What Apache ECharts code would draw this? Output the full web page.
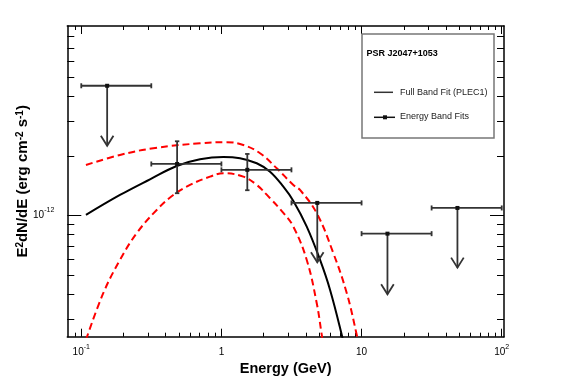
<!DOCTYPE html>
<html><head><meta charset="utf-8">
<script src="https://cdn.jsdelivr.net/npm/echarts@6/dist/echarts.min.js"></script>
<style>html,body{margin:0;padding:0;background:#fff}#c{width:567px;height:384px}</style>
</head><body><div id="c"></div>
<script>
// ---- data ----
const xMajorTicks = [0.1, 1, 10, 100];
const xMinorTicks = [0.09, 0.2, 0.3, 0.4, 0.5, 0.6, 0.7, 0.8, 0.9, 2, 3, 4, 5, 6, 7, 8, 9, 20, 30, 40, 50, 60, 70, 80, 90];
const yMajorTicks = [1e-12];
const yMinorTicks = [3e-13, 4e-13, 5e-13, 6e-13, 7e-13, 8e-13, 9e-13, 2e-12, 3e-12, 4e-12, 5e-12, 6e-12, 7e-12, 8e-12];

// Full band fit (PLEC1)
const fitE = [0.108, 0.1889, 0.3093, 0.4797, 0.7035, 1.032, 1.358, 1.786, 2.223, 2.766, 3.261, 4.063, 5.057, 5.961, 7.224, 7.6];
const fitF = [1.006e-12, 1.269e-12, 1.523e-12, 1.778e-12, 1.922e-12, 1.975e-12, 1.945e-12, 1.835e-12, 1.664e-12, 1.398e-12, 1.184e-12, 0.878e-12, 0.596e-12, 0.4205e-12, 0.2491e-12, 0.21e-12];
// Upper band (red dashed)
const upE = [0.108, 0.1889, 0.3265, 0.7035, 1.091, 1.433, 1.886, 2.481, 3.261, 3.639, 4.788, 6.292, 7.844, 9.24, 9.7];
const upF = [1.799e-12, 2.021e-12, 2.185e-12, 2.316e-12, 2.343e-12, 2.270e-12, 2.061e-12, 1.731e-12, 1.426e-12, 1.345e-12, 1.026e-12, 0.644e-12, 0.4046e-12, 0.2491e-12, 0.21e-12];
// Lower band (red dashed)
const loE = [0.108, 0.1435, 0.1889, 0.2485, 0.3453, 0.4536, 0.5969, 0.8291, 1.032, 1.433, 1.786, 2.223, 2.766, 3.261, 4.063, 4.788, 5.199, 5.4];
const loF = [0.235e-12, 0.4046e-12, 0.596e-12, 0.813e-12, 1.066e-12, 1.269e-12, 1.426e-12, 1.570e-12, 1.634e-12, 1.570e-12, 1.426e-12, 1.221e-12, 1.030e-12, 0.878e-12, 0.596e-12, 0.3602e-12, 0.2491e-12, 0.21e-12];

// Energy band fits
const binE   = [0.153, 0.483, 1.53, 4.83, 15.3, 48.3];
const binLo  = [0.1, 0.316, 1, 3.16, 10, 31.6];
const binHi  = [0.316, 1, 3.16, 10, 31.6, 100];
const binF   = [4.52e-12, 1.82e-12, 1.70e-12, 1.157e-12, 0.809e-12, 1.091e-12];
const binFLo = [null, 1.295e-12, 1.341e-12, null, null, null];
const binFHi = [null, 2.37e-12, 2.045e-12, null, null, null];
const ulTip  = [2.25e-12, null, null, 0.58e-12, 0.40e-12, 0.545e-12];

const FONT = 'Liberation Sans, Arial, Helvetica, sans-serif';
const X_MIN = 0.0795, X_MAX = 103.8, Y_MIN = 2.44e-13, Y_MAX = 9.06e-12;

function powLabel(v) {
  const e = Math.round(Math.log10(v));
  if (e === 0) return '{b|1}';
  if (e === 1) return '{b|10}';
  return '{b|10}{s|' + e + '}';
}
const labRich = {
  b: { fontSize: 10, lineHeight: 17, fontFamily: FONT, color: '#000' },
  s: { fontSize: 7, lineHeight: 8, verticalAlign: 'top', fontFamily: FONT, color: '#000' }
};

function mkX(pos, major) {
  return {
    type: 'log', logBase: 10, min: X_MIN, max: X_MAX, position: pos, gridIndex: 0,
    axisLine: { show: major, onZero: false, lineStyle: { color: '#000', width: 1.5 } },
    axisTick: { show: true, inside: true, length: major ? 8 : 4, customValues: major ? xMajorTicks : xMinorTicks,
      lineStyle: { color: '#000', width: 1 } },
    axisLabel: { show: major && pos === 'bottom', customValues: xMajorTicks, formatter: powLabel, rich: labRich, margin: 7 },
    splitLine: { show: false }, minorTick: { show: false },
    name: (major && pos === 'bottom') ? 'Energy (GeV)' : '',
    nameLocation: 'middle', nameGap: 25, nameMoveOverlap: false,
    nameTextStyle: { fontSize: 14.5, fontWeight: 'bold', fontFamily: FONT, color: '#000' }
  };
}
function mkY(pos, major) {
  return {
    type: 'log', logBase: 10, min: Y_MIN, max: Y_MAX, position: pos, gridIndex: 0,
    axisLine: { show: major, onZero: false, lineStyle: { color: '#000', width: 1.5 } },
    axisTick: { show: true, inside: true, length: major ? 14 : 7, customValues: major ? yMajorTicks : yMinorTicks,
      lineStyle: { color: '#000', width: 1 } },
    axisLabel: { show: major && pos === 'left', customValues: yMajorTicks, formatter: powLabel, rich: labRich, margin: 13 },
    splitLine: { show: false }, minorTick: { show: false },
    name: (major && pos === 'left') ? 'E{s|2}dN/dE (erg cm{s|-2} s{s|-1})' : '',
    nameLocation: 'middle', nameGap: 37, nameMoveOverlap: false,
    nameTextStyle: { fontSize: 15, fontWeight: 'bold', fontFamily: FONT, color: '#000',
      rich: { s: { fontSize: 10, fontWeight: 'bold', verticalAlign: 'top', lineHeight: 10, fontFamily: FONT } } }
  };
}

const chart = echarts.init(document.getElementById('c'), null, { renderer: 'canvas' });
const EB = '#333';
chart.setOption({
  animation: false,
  backgroundColor: '#fff',
  grid: { left: 67.3, right: 63, top: 26, bottom: 47.3, containLabel: false, outerBoundsMode: 'none' },
  xAxis: [mkX('bottom', true), mkX('bottom', false), mkX('top', true), mkX('top', false)],
  yAxis: [mkY('left', true), mkY('left', false), mkY('right', true), mkY('right', false)],
  series: [
    { type: 'line', xAxisIndex: 0, yAxisIndex: 0, data: upE.map((e, i) => [e, upF[i]]), showSymbol: false,
      smooth: 0.4, lineStyle: { color: '#ff0000', width: 2, type: [7, 4] }, z: 3 },
    { type: 'line', xAxisIndex: 0, yAxisIndex: 0, data: loE.map((e, i) => [e, loF[i]]), showSymbol: false,
      smooth: 0.4, lineStyle: { color: '#ff0000', width: 2, type: [7, 4] }, z: 3 },
    { type: 'line', xAxisIndex: 0, yAxisIndex: 0, data: fitE.map((e, i) => [e, fitF[i]]), showSymbol: false,
      smooth: 0.4, lineStyle: { color: '#000', width: 2 }, z: 4 },
    { type: 'custom', xAxisIndex: 0, yAxisIndex: 0, z: 5, clip: false,
      data: binE.map((e, i) => [e, binF[i]]),
      encode: { x: 0, y: 1 },
      renderItem: function (params, api) {
        const i = params.dataIndex;
        const c = api.coord([binE[i], binF[i]]);
        const l = api.coord([binLo[i], binF[i]]);
        const h = api.coord([binHi[i], binF[i]]);
        const st = { stroke: EB, lineWidth: 1.8 };
        const ch = [];
        ch.push({ type: 'line', shape: { x1: l[0], y1: c[1], x2: h[0], y2: c[1] }, style: st });
        ch.push({ type: 'line', shape: { x1: l[0], y1: c[1] - 2.5, x2: l[0], y2: c[1] + 2.5 }, style: st });
        ch.push({ type: 'line', shape: { x1: h[0], y1: c[1] - 2.5, x2: h[0], y2: c[1] + 2.5 }, style: st });
        if (binFLo[i] != null) {
          const t = api.coord([binE[i], binFHi[i]]);
          const b = api.coord([binE[i], binFLo[i]]);
          ch.push({ type: 'line', shape: { x1: c[0], y1: t[1], x2: c[0], y2: b[1] }, style: st });
          ch.push({ type: 'line', shape: { x1: c[0] - 2.2, y1: t[1], x2: c[0] + 2.2, y2: t[1] }, style: st });
          ch.push({ type: 'line', shape: { x1: c[0] - 2.2, y1: b[1], x2: c[0] + 2.2, y2: b[1] }, style: st });
        }
        if (ulTip[i] != null) {
          const t = api.coord([binE[i], ulTip[i]]);
          ch.push({ type: 'line', shape: { x1: c[0], y1: c[1], x2: c[0], y2: t[1] }, style: st });
          ch.push({ type: 'polyline', shape: { points: [[t[0] - 6.3, t[1] - 10], [t[0], t[1]], [t[0] + 6.3, t[1] - 10]] },
            style: { stroke: EB, lineWidth: 1.8, fill: null } });
        }
        ch.push({ type: 'rect', shape: { x: c[0] - 2, y: c[1] - 2, width: 4, height: 4 }, style: { fill: '#111' } });
        return { type: 'group', children: ch };
      }
    }
  ],
  graphic: [
    { type: 'rect', z: 10, shape: { x: 362, y: 34, width: 132, height: 104 },
      style: { fill: '#fff', stroke: '#777', lineWidth: 1.5 } },
    { type: 'text', z: 11, x: 366.5, y: 54, style: { text: 'PSR J2047+1053', font: 'bold 9px ' + FONT, fill: '#000', textVerticalAlign: 'middle' } },
    { type: 'line', z: 11, shape: { x1: 374, y1: 92.3, x2: 393, y2: 92.3 }, style: { stroke: '#333', lineWidth: 1.5 } },
    { type: 'text', z: 11, x: 400, y: 92.3, style: { text: 'Full Band Fit (PLEC1)', font: '9px ' + FONT, fill: '#222', textVerticalAlign: 'middle' } },
    { type: 'line', z: 11, shape: { x1: 374, y1: 117.3, x2: 395, y2: 117.3 }, style: { stroke: '#111', lineWidth: 1.5 } },
    { type: 'rect', z: 12, shape: { x: 383, y: 115.3, width: 4, height: 4 }, style: { fill: '#111' } },
    { type: 'text', z: 11, x: 400, y: 116.5, style: { text: 'Energy Band Fits', font: '9px ' + FONT, fill: '#222', textVerticalAlign: 'middle' } }
  ]
});
</script>
</body></html>
